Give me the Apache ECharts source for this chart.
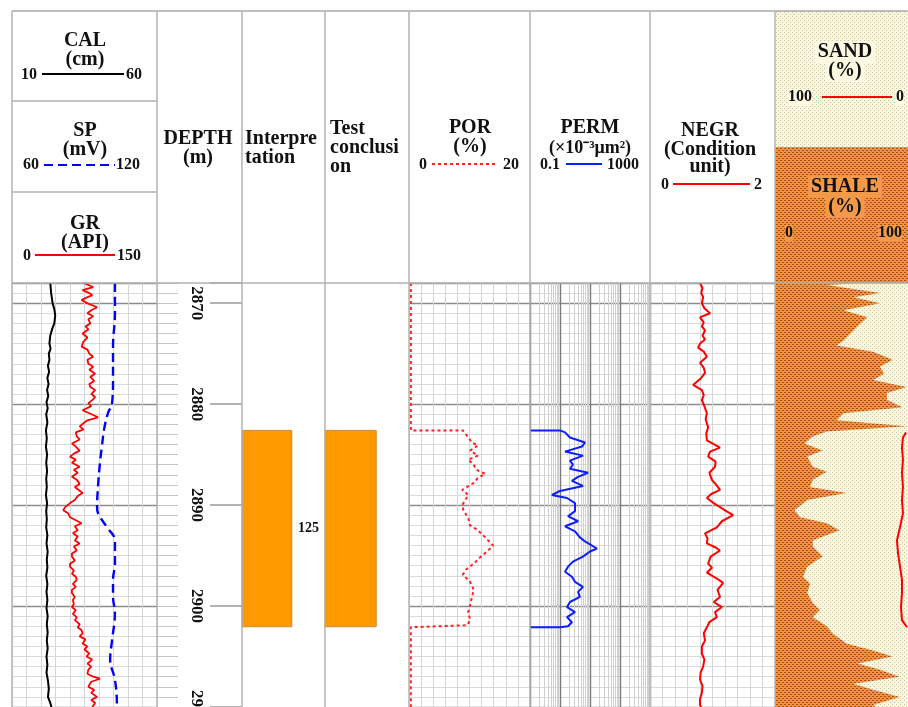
<!DOCTYPE html>
<html>
<head>
<meta charset="utf-8">
<script src="https://cdn.jsdelivr.net/npm/echarts@6/dist/echarts.min.js"></script>
<style>html,body{margin:0;padding:0;background:#fff}#main{width:908px;height:707px}</style>
</head>
<body>
<div id="main"></div>
<script>
// depth window
var DMIN = 2868, DMAX = 2910;

// logs as [depth, value]
var calLog = [[2868,23.2],[2869,23.5],[2870,24.0],[2870.6,24.6],[2871.2,24.9],[2872,24.6],[2872.6,23.8],[2873.2,23.2],[2874,22.9],[2874.5,23.3],[2875,22.7],[2875.6,22.9],[2876.2,22.4],[2876.8,22.8],[2877.4,22.2],[2878,22.6],[2878.6,22.1],[2879.2,22.5],[2879.8,21.9],[2880.4,22.3],[2881,21.8],[2881.8,22.2],[2882.6,21.7],[2883.4,22.0],[2884.2,21.7],[2885,22.1],[2885.8,21.8],[2886.6,22.1],[2887.4,21.8],[2888.2,22.0],[2889,21.7],[2889.8,22.1],[2890.6,21.8],[2891.4,22.0],[2892.2,21.8],[2893,22.2],[2893.8,21.9],[2894.6,22.3],[2895.4,22.0],[2896.2,22.2],[2897,21.8],[2897.8,22.2],[2898.6,21.9],[2899.4,22.2],[2900.2,21.9],[2901,22.3],[2901.8,22.0],[2902.6,22.3],[2903.4,22.0],[2904.2,22.3],[2905,21.9],[2905.8,22.2],[2906.6,21.9],[2907.4,22.4],[2908.2,22.7],[2909,22.4],[2909.6,23.2],[2910,23.6]];

var grLog = [[2868.0,74],[2868.4,84],[2868.7,73],[2869.0,80],[2869.2,83],[2869.5,76],[2869.7,72],[2870.1,80],[2870.4,88],[2870.7,82],[2871.0,78],[2871.3,84],[2871.6,79],[2872.0,81],[2872.3,76],[2872.6,79],[2873.0,73],[2873.4,78],[2873.8,74],[2874.3,72],[2874.6,78],[2875.0,80],[2875.3,84],[2875.6,78],[2876.0,79],[2876.3,84],[2876.6,80],[2877.0,86],[2877.3,81],[2877.7,85],[2878.0,80],[2878.3,81],[2878.6,86],[2879.0,82],[2879.3,86],[2879.6,83],[2879.9,79],[2880.2,82],[2880.6,73],[2880.9,80],[2881.3,89],[2881.6,78],[2881.9,74],[2882.2,70],[2882.5,74],[2882.8,66],[2883.2,67],[2883.5,70],[2883.9,62],[2884.2,66],[2884.6,70],[2884.9,64],[2885.2,60],[2885.5,66],[2885.8,62],[2886.2,70],[2886.5,64],[2886.8,68],[2887.2,62],[2887.5,67],[2887.9,70],[2888.2,65],[2888.5,69],[2888.8,73],[2889.1,68],[2889.5,65],[2889.8,60],[2890.2,55],[2890.5,53],[2890.8,58],[2891.2,60],[2891.5,66],[2891.8,72],[2892.1,65],[2892.5,68],[2892.8,63],[2893.1,68],[2893.5,65],[2893.8,70],[2894.1,64],[2894.5,67],[2894.8,62],[2895.1,62],[2895.5,65],[2895.8,60],[2896.1,60],[2896.5,64],[2896.8,62],[2897.1,66],[2897.4,67],[2897.8,63],[2898.1,66],[2898.4,62],[2898.7,62],[2899.1,65],[2899.4,63],[2899.8,64],[2900.1,62],[2900.4,66],[2900.8,63],[2901.1,67],[2901.4,65],[2901.8,70],[2902.1,68],[2902.4,72],[2902.7,73],[2903.0,70],[2903.3,76],[2903.7,73],[2904.0,78],[2904.3,75],[2904.7,80],[2905.0,77],[2905.3,83],[2905.7,78],[2906.0,82],[2906.3,79],[2906.7,78],[2907.0,84],[2907.2,91],[2907.5,82],[2907.8,80],[2908.0,79],[2908.3,85],[2908.6,82],[2909.0,88],[2909.3,82],[2909.6,86],[2910.0,83]];

var spLog = [[2868.0,102.6],[2871.0,102.6],[2874.3,101.8],[2877.6,101.8],[2879.9,101.4],[2880.9,99.7],[2882.5,98.1],[2884.2,97.2],[2885.8,96.4],[2888.1,95.6],[2890.2,95.2],[2890.8,95.6],[2892.2,99.3],[2893.5,102.6],[2895.8,102.6],[2897.4,101.8],[2899.1,101.8],[2900.7,102.6],[2903.4,101.4],[2905.3,100.6],[2907.3,102.6],[2909.8,103.4],[2910,103.4]];

var porLog = [[2868.0,0.3],[2882.6,0.3],[2882.6,8.9],[2882.9,9.3],[2883.8,10.4],[2884.1,11.4],[2884.6,10.1],[2885.1,11.4],[2885.5,9.8],[2886.0,10.7],[2886.5,11.1],[2886.9,12.6],[2887.3,11.4],[2887.8,10.7],[2888.5,8.8],[2889.0,9.8],[2890.0,8.8],[2890.5,9.0],[2891.3,9.8],[2892.0,10.1],[2892.5,11.4],[2893.2,12.6],[2894.0,13.9],[2894.5,13.1],[2895.2,11.7],[2895.7,10.9],[2896.4,9.4],[2896.9,8.9],[2897.6,10.1],[2898.4,10.7],[2899.1,10.4],[2899.9,10.1],[2900.6,9.8],[2901.4,10.1],[2901.9,9.6],[2902.1,0.3],[2910,0.3]];

var permLog = [[2882.6,0.1],[2882.6,1.0],[2882.8,1.47],[2883.3,2.15],[2883.8,6.8],[2884.2,5.4],[2884.7,1.47],[2885.1,5.8],[2885.6,2.15],[2886.0,2.7],[2886.4,2.15],[2886.8,8.6],[2887.2,4.0],[2887.6,2.5],[2888.1,5.8],[2888.6,1.0],[2889.0,0.54],[2889.3,1.71],[2889.8,3.16],[2890.6,3.16],[2891.1,1.85],[2891.6,4.0],[2892.1,1.47],[2892.6,3.16],[2893.2,4.6],[2893.6,6.8],[2894.3,17],[2894.6,10],[2895.1,5.8],[2895.6,2.7],[2896.1,1.85],[2896.6,1.47],[2897.1,2.5],[2897.6,3.16],[2898.1,5.8],[2898.6,4.0],[2899.1,4.6],[2899.6,2.15],[2900.1,1.71],[2900.6,3.16],[2901.1,1.71],[2901.6,2.5],[2902.0,1.85],[2902.1,1.0],[2902.1,0.1]];

var negrLog = [[2868.0,0.80],[2868.5,0.84],[2869.0,0.82],[2869.4,0.85],[2870.0,0.83],[2870.5,0.87],[2871.0,0.96],[2871.4,0.80],[2871.9,0.86],[2872.3,0.83],[2872.7,0.88],[2873.2,0.84],[2873.6,0.88],[2874.0,0.80],[2874.4,0.77],[2874.8,0.86],[2875.3,0.91],[2875.9,0.80],[2876.4,0.86],[2876.9,0.88],[2877.4,0.82],[2878.1,0.69],[2878.6,0.83],[2879.1,0.86],[2879.6,0.83],[2880.2,0.87],[2880.9,0.91],[2881.5,0.89],[2882.3,0.93],[2882.9,0.90],[2883.6,0.91],[2884.3,1.12],[2884.7,0.96],[2885.2,0.93],[2885.7,1.05],[2886.2,1.04],[2886.8,0.95],[2887.5,0.99],[2888.0,1.06],[2888.5,1.12],[2888.9,0.98],[2889.3,0.91],[2889.8,1.02],[2890.2,1.12],[2890.6,1.22],[2891.0,1.33],[2891.6,1.15],[2892.2,1.07],[2892.8,0.88],[2893.3,0.92],[2893.8,0.91],[2894.2,1.05],[2894.5,1.12],[2895.1,0.97],[2895.8,0.93],[2896.2,0.99],[2896.7,0.91],[2897.2,1.05],[2897.7,1.17],[2898.4,1.08],[2899.1,1.12],[2899.6,1.02],[2900.1,1.15],[2900.6,1.04],[2901.1,1.07],[2901.6,0.95],[2902.1,0.91],[2902.7,0.86],[2903.4,0.88],[2904.0,0.83],[2904.7,0.83],[2905.3,0.87],[2906.0,0.85],[2906.6,0.81],[2907.3,0.80],[2907.9,0.84],[2908.6,0.83],[2909.2,0.80],[2909.8,0.80],[2910,0.82]];

var shaleLog = [[2868.0,60],[2868.2,37],[2869.0,75],[2869.4,56],[2870.0,75],[2870.7,49],[2871.4,66],[2872.0,61],[2872.7,56],[2873.7,49],[2874.2,44],[2874.8,70],[2875.6,84],[2876.3,75],[2877.0,78],[2877.6,70],[2878.3,94],[2878.9,80],[2879.6,80],[2880.3,91],[2880.9,49],[2881.6,44],[2882.2,94],[2882.7,37],[2883.2,27],[2883.9,21],[2884.6,34],[2885.2,23],[2886.2,27],[2886.7,37],[2887.5,27],[2888.2,25],[2888.8,51],[2889.5,23],[2890.5,14],[2891.2,18],[2891.8,37],[2892.5,46],[2893.5,27],[2894.1,27],[2895.1,34],[2896.1,23],[2897.1,20],[2897.8,25],[2898.7,23],[2899.7,27],[2900.4,32],[2901.1,27],[2902.0,37],[2902.7,41],[2903.7,51],[2904.4,70],[2905.0,84],[2905.7,59],[2906.3,75],[2907.0,89],[2907.7,56],[2908.3,70],[2909.0,89],[2909.8,70],[2910.0,72]];

var sandLog = [[2882.8,6.4],[2883.3,8.6],[2884.3,9.3],[2885.5,8.6],[2886.8,9.3],[2888.2,8.6],[2889.5,9.3],[2890.8,8.6],[2892.2,10.7],[2893.5,12.9],[2894.8,12.1],[2896.1,10.7],[2897.4,9.3],[2898.7,9.3],[2900.1,10.0],[2901.4,9.3],[2902.1,5.7]];

// interpreted zones: [top, bottom, layer no.]
var interpZones = [[2882.6, 2902.05, '125']];
var testZones = [[2882.6, 2902.05]];

var permMinor = [0.2,0.3,0.4,0.5,0.6,0.7,0.8,0.9,2,3,4,5,6,7,8,9,20,30,40,50,60,70,80,90,200,300,400,500,600,700,800,900];

function makePattern(bg, dot, cells) {
    var c = document.createElement('canvas');
    c.width = 4; c.height = 4;
    var ctx = c.getContext('2d');
    ctx.fillStyle = bg; ctx.fillRect(0, 0, 4, 4);
    ctx.fillStyle = dot;
    cells.forEach(function (p) { ctx.fillRect(p[0], p[1], 1, 1); });
    return {image: c, repeat: 'repeat'};
}
var shaleFill = makePattern('#F7923A', '#9b521f', [[0,0],[1,0],[2,2],[3,2]]);
var sandFill = makePattern('#FAF7DE', '#C9C5A2', [[0,0],[2,2]]);

var tracks = [
    {left: 12, width: 145},  // CAL / SP / GR
    {left: 157, width: 85},  // depth
    {left: 242, width: 83},  // interpretation
    {left: 325, width: 84},  // test conclusion
    {left: 409, width: 121}, // POR
    {left: 530, width: 120}, // PERM
    {left: 650, width: 125}, // NEGR
    {left: 775, width: 140}  // sand / shale
];
var gridTracks = [0, 4, 5, 6];

var yAxis = [], yMajor = [];
tracks.forEach(function (t, g) {
    var lines = gridTracks.indexOf(g) >= 0;
    yAxis.push({
        gridIndex: g, type: 'value', inverse: true, min: DMIN, max: DMAX, interval: 1,
        axisLine: {show: false}, axisLabel: {show: false},
        axisTick: g === 1 ? {show: true, inside: true, length: 21, lineStyle: {color: '#c4c4c4', width: 1}} : {show: false},
        splitLine: {show: lines, lineStyle: {color: '#dadada', width: 1}}
    });
    yMajor[g] = yAxis.length;
    yAxis.push({
        gridIndex: g, type: 'value', inverse: true, min: DMIN, max: DMAX, splitNumber: 4,
        axisLine: {show: false},
        axisTick: g === 1 ? {show: true, inside: true, length: 30, lineStyle: {color: '#9a9a9a', width: 1.5}} : {show: false},
        axisLabel: g === 1 ? {
            show: true, inside: true, rotate: -90, margin: 46, align: 'center', verticalAlign: 'middle',
            showMinLabel: false, showMaxLabel: true, formatter: function (v) { return String(v); },
            fontFamily: '"Liberation Serif", serif', fontWeight: 'bold', fontSize: 17, color: '#111'
        } : {show: false},
        splitLine: {show: lines, lineStyle: {color: '#8c8c8c', width: 1.3}}
    });
});
yAxis.push({
    gridIndex: 1, type: 'value', inverse: true, min: DMIN, max: DMAX, splitNumber: 4, position: 'right',
    axisLine: {show: false}, axisLabel: {show: false}, splitLine: {show: false},
    axisTick: {show: true, inside: true, length: 32, lineStyle: {color: '#9a9a9a', width: 1.5}}
});

function hx(g, min, max, extra) {
    var a = {gridIndex: g, type: 'value', min: min, max: max, axisLine: {show: false}, axisTick: {show: false},
        axisLabel: {show: false}, splitLine: {show: false}};
    for (var k in extra) a[k] = extra[k];
    return a;
}
var thin = {show: true, lineStyle: {color: '#d6d6d6', width: 1}};
var xAxis = [
    hx(0, 0, 150, {interval: 15, splitLine: thin}),       // 0 GR
    hx(0, 10, 60),                                         // 1 CAL
    hx(0, 60, 120),                                        // 2 SP
    hx(1, 0, 1),                                           // 3 depth
    hx(2, 0, 1),                                           // 4 interp
    hx(3, 0, 1),                                           // 5 test
    hx(4, 0, 20, {interval: 2, splitLine: thin}),          // 6 POR
    hx(5, 0.1, 1000, {type: 'log', logBase: 10, splitLine: {show: true, lineStyle: {color: '#7a7a7a', width: 1.4}}}), // 7 PERM
    hx(6, 0, 2, {interval: 0.2, splitLine: thin}),         // 8 NEGR
    hx(7, 0, 100),                                         // 9 SHALE
    hx(7, 0, 100, {inverse: true})                         // 10 SAND
];

function flip(arr) { return arr.map(function (p) { return [p[1], p[0]]; }); }
function logLine(xi, g, data, color, width, type, extra) {
    var s = {type: 'line', xAxisIndex: xi, yAxisIndex: yMajor[g], data: flip(data), symbol: 'none',
        lineStyle: {color: color, width: width, type: type || 'solid'}, z: 5, silent: true};
    for (var k in extra) s[k] = extra[k];
    return s;
}

function zoneRender(x1, withLabel) {
    return function (params, api) {
        var p0 = api.coord([0, api.value(0)]);
        var p1 = api.coord([x1, api.value(1)]);
        var kids = [{type: 'rect', shape: {x: p0[0], y: p0[1], width: p1[0] - p0[0], height: p1[1] - p0[1]},
            style: {fill: '#FF9900', stroke: '#C98A3A', lineWidth: 1}}];
        if (withLabel) {
            var pm = api.coord([0.8, (api.value(0) + api.value(1)) / 2]);
            kids.push({type: 'text', style: {text: interpZones[params.dataIndex][2], x: pm[0], y: pm[1],
                font: 'bold 14px "Liberation Serif", serif', fill: '#111', align: 'center', verticalAlign: 'middle',
                textAlign: 'center', textVerticalAlign: 'middle'}});
        }
        return {type: 'group', children: kids};
    };
}

function lithRender(params, api) {
    var a = api.coord([0, DMIN]), b = api.coord([100, DMAX]);
    var pts = [api.coord([0, DMIN])];
    shaleLog.forEach(function (p) { pts.push(api.coord([p[1], p[0]])); });
    pts.push(api.coord([0, DMAX]));
    return {type: 'group', children: [
        {type: 'rect', shape: {x: a[0], y: a[1], width: b[0] - a[0], height: b[1] - a[1]}, style: {fill: sandFill}},
        {type: 'polygon', shape: {points: pts}, style: {fill: shaleFill}}
    ]};
}

var series = [
    logLine(1, 0, calLog, '#000', 2),
    logLine(0, 0, grLog, '#ff0000', 1.8),
    logLine(2, 0, spLog, '#0000ff', 2.4, [9, 5], {smooth: 0.4}),
    {type: 'custom', xAxisIndex: 4, yAxisIndex: yMajor[2], data: interpZones.map(function (z) { return [z[0], z[1]]; }),
        renderItem: zoneRender(0.6, true), silent: true},
    {type: 'custom', xAxisIndex: 5, yAxisIndex: yMajor[3], data: testZones, renderItem: zoneRender(0.61, false), silent: true},
    logLine(6, 4, porLog, '#ff2020', 2, [3, 3]),
    {type: 'line', xAxisIndex: 7, yAxisIndex: yMajor[5], data: [[1, DMIN]], symbol: 'none', silent: true, z: 1,
        lineStyle: {opacity: 0},
        markLine: {silent: true, symbol: 'none', label: {show: false}, animation: false,
            lineStyle: {color: '#d0d0d0', type: 'solid', width: 1},
            data: permMinor.map(function (v) { return {xAxis: v}; })}},
    logLine(7, 5, permLog, '#0a1eff', 2),
    logLine(8, 6, negrLog, '#ff0000', 2),
    {type: 'custom', xAxisIndex: 9, yAxisIndex: yMajor[7], data: [[0, DMIN]], renderItem: lithRender, clip: true, silent: true, z: 1},
    logLine(10, 7, sandLog, '#ff0000', 2)
];

// header
var F = '"Liberation Serif", "Times New Roman", serif';
function txt(s, x, y, size, align, extra) {
    var st = {text: s, x: x, y: y, font: 'bold ' + size + 'px ' + F, fill: '#111',
        align: align || 'center', verticalAlign: 'middle', textAlign: align || 'center', textVerticalAlign: 'middle'};
    for (var k in extra) st[k] = extra[k];
    return {type: 'text', z: 120, style: st};
}
function ln(x1, y1, x2, y2, color, w, dash) {
    return {type: 'line', z: 110, shape: {x1: x1, y1: y1, x2: x2, y2: y2},
        style: {stroke: color, lineWidth: w, lineDash: dash || null}};
}
var graphic = [
    {type: 'rect', z: 100, shape: {x: 775, y: 11, width: 140, height: 136}, style: {fill: sandFill}},
    {type: 'rect', z: 100, shape: {x: 775, y: 147, width: 140, height: 136}, style: {fill: shaleFill}},
    ln(12, 11, 908, 11, '#a8a8a8', 1.5),
    ln(12, 283, 908, 283, '#b0b0b0', 1.5),
    ln(12, 101, 157, 101, '#b0b0b0', 1.5),
    ln(12, 192, 157, 192, '#b0b0b0', 1.5)
];
[12, 157, 242, 325, 409, 530, 650, 775].forEach(function (x) {
    graphic.push(ln(x, 11, x, 707, '#b3b3b3', 1.5));
});
graphic = graphic.concat([
    txt('CAL', 85, 41, 20), txt('(cm)', 85, 60, 20),
    txt('10', 37, 75, 16, 'right'), ln(42, 74, 124, 74, '#000', 2), txt('60', 126, 75, 16, 'left'),
    txt('SP', 85, 131, 20), txt('(mV)', 85, 150, 20),
    txt('60', 39, 165, 16, 'right'), ln(44, 165, 115, 165, '#0000ff', 2, [9, 5]), txt('120', 116, 165, 16, 'left'),
    txt('GR', 85, 224, 20), txt('(API)', 85, 243, 20),
    txt('0', 31, 256, 16, 'right'), ln(35, 255, 115, 255, '#ff0000', 2), txt('150', 117, 256, 16, 'left'),
    txt('DEPTH', 198, 139, 20), txt('(m)', 198, 158, 20),
    txt('Interpre', 245, 139, 20, 'left'), txt('tation', 245, 158, 20, 'left'),
    txt('Test', 330, 129, 20, 'left'), txt('conclusi', 330, 148, 20, 'left'), txt('on', 330, 167, 20, 'left'),
    txt('POR', 470, 128, 20), txt('(%)', 470, 147, 20),
    txt('0', 423, 165, 16), ln(432, 164, 497, 164, '#ff2020', 2, [3, 3]), txt('20', 511, 165, 16),
    txt('PERM', 590, 128, 20), txt('(×10⁻³μm²)', 590, 148, 18),
    txt('0.1', 550, 165, 16), ln(566, 164, 602, 164, '#0a1eff', 2), txt('1000', 623, 165, 16),
    txt('NEGR', 710, 131, 20), txt('(Condition', 710, 150, 20), txt('unit)', 710, 167, 20),
    txt('0', 665, 185, 16), ln(673, 184, 750, 184, '#ff0000', 2), txt('2', 758, 185, 16),
    txt('SAND', 845, 52, 20, 'center', {backgroundColor: '#FBF9E2', padding: [1, 3]}),
    txt('(%)', 845, 71, 20, 'center', {backgroundColor: '#FBF9E2', padding: [1, 3]}),
    txt('100', 800, 97, 16, 'center', {backgroundColor: '#FBF9E2'}), ln(822, 97, 892, 97, '#ff0000', 2),
    txt('0', 900, 97, 16, 'center', {backgroundColor: '#FBF9E2'}),
    txt('SHALE', 845, 187, 20, 'center', {backgroundColor: '#F39A4A', padding: [1, 3]}),
    txt('(%)', 845, 207, 20, 'center', {backgroundColor: '#F39A4A', padding: [1, 3]}),
    txt('0', 789, 233, 16, 'center', {backgroundColor: '#F39A4A'}),
    txt('100', 890, 233, 16, 'center', {backgroundColor: '#F39A4A'})
]);

var chart = echarts.init(document.getElementById('main'));
chart.setOption({
    animation: false,
    backgroundColor: '#fff',
    grid: tracks.map(function (t) {
        return {left: t.left, width: t.width, top: 283, height: 424, show: false, containLabel: false, outerBoundsMode: 'none'};
    }),
    xAxis: xAxis,
    yAxis: yAxis,
    series: series,
    graphic: graphic
});
</script>
</body>
</html>
